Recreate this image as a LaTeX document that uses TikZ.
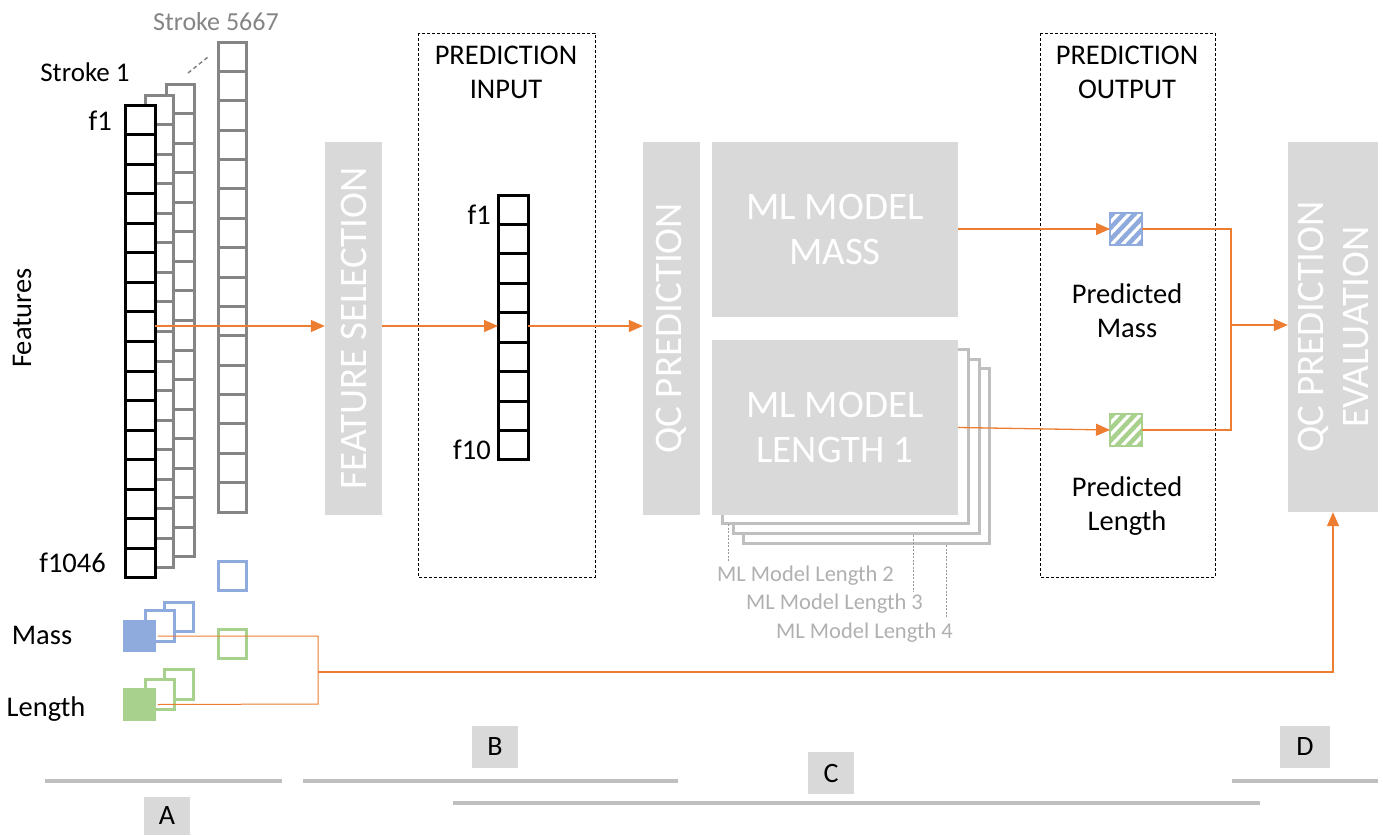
\documentclass[tikz,border=0pt]{standalone}
\usepackage{fontspec}
\setmainfont{Carlito}
\usetikzlibrary{arrows.meta}
\definecolor{boxgray}{HTML}{D9D9D9}
\definecolor{colgray}{HTML}{858585}
\definecolor{myblue}{HTML}{8FAADC}
\definecolor{mygreen}{HTML}{A9D18E}
\definecolor{myorange}{HTML}{ED7D31}
\definecolor{stackgray}{HTML}{BFBFBF}
\definecolor{lightlabel}{HTML}{B0B0B0}
\definecolor{leadgray}{HTML}{999999}
\begin{document}
\begin{tikzpicture}[x=1pt,y=-1pt,
  graybox/.style={fill=boxgray, draw=none, inner sep=0pt},
  bigtxt/.style={text=white, font=\fontsize{39}{45}\selectfont, align=center, inner sep=0pt},
  lbl/.style={font=\fontsize{28.5}{34}\selectfont, inner sep=0pt, align=center},
  smalllbl/.style={font=\fontsize{22.5}{25}\selectfont, inner sep=0pt, text=lightlabel},
  arr/.style={draw=myorange, line width=1.3pt, -{Triangle[length=14pt,width=12pt]}},
  ln/.style={draw=myorange, line width=1.3pt},
  dbox/.style={draw=black, dash pattern=on 3pt off 2pt, line width=0.9pt},
  bar/.style={draw=stackgray, line width=3.5pt},
  letterbox/.style={fill=boxgray, minimum width=46, minimum height=42, font=\fontsize{28}{30}\selectfont, inner sep=0pt},
  graycell/.style={draw=colgray, line width=3pt, fill=white},
  blackcell/.style={draw=black, line width=3pt, fill=white},
  sq/.style={minimum width=30, minimum height=30, inner sep=0pt, line width=3pt},
  leader/.style={draw=leadgray, dash pattern=on 2pt off 1.5pt, line width=0.8pt},
  stackbox/.style={draw=stackgray, line width=3pt, fill=white}
]
\useasboundingbox (0,0) rectangle (1383,835);

% ---------- Section A: strokes ----------
\node[lbl, text=colgray, font=\fontsize{26}{30}\selectfont] (s5667lbl) at (216,22) {Stroke 5667};
\node[lbl, font=\fontsize{27}{30}\selectfont] (s1lbl) at (85,72) {Stroke 1};
\draw[colgray, dash pattern=on 4pt off 3pt, line width=1.5pt] (188,73) -- (208,57);

\foreach \i in {0,...,15} \draw[graycell] (218, 42+\i*29.38) rectangle ++(28,29.38);
\foreach \i in {0,...,15} \draw[graycell] (166, 84+\i*29.56) rectangle ++(28,29.56);
\foreach \i in {0,...,15} \draw[graycell] (145, 95+\i*29.56) rectangle ++(28,29.56);
\foreach \i in {0,...,15} \draw[blackcell] (125, 105+\i*29.56) rectangle ++(30,29.56);
\coordinate (s1mid) at (155,326);

\node[lbl, anchor=east] (f1a) at (112,121) {f1};
\node[lbl, anchor=east] (f1046) at (106,563) {f1046};
\node[lbl, rotate=90] (features) at (22,318) {Features};

% targets
\draw[myblue, line width=3pt, fill=white] (218,561) rectangle (246,590);
\draw[mygreen, line width=3pt, fill=white] (218,629) rectangle (246,658);

\draw[myblue, line width=3pt, fill=white] (164,602) rectangle (193,631);
\draw[myblue, line width=3pt, fill=white] (145,610) rectangle (174,641);
\node[sq, fill=myblue, minimum width=33, minimum height=32] (mass) at (139.5,636) {};
\draw[mygreen, line width=3pt, fill=white] (164,669) rectangle (193,699);
\draw[mygreen, line width=3pt, fill=white] (145,679) rectangle (174,709);
\node[sq, fill=mygreen, minimum width=33, minimum height=33] (length) at (139.5,704.5) {};

\node[lbl] (masslbl) at (42,635) {Mass};
\node[lbl] (lenlbl) at (46,709) {Length};

\coordinate (jl) at (318,672);
\draw[ln, line width=1pt] (mass.east) -- (318,636) -- (318,704) -- (length.east);

% ---------- Section B ----------
\node[graybox, minimum width=57, minimum height=373] (fs) at (353.5,328.5) {};
\node[bigtxt, rotate=90] (fstxt) at (fs.center) {FEATURE SELECTION};

\draw[dbox] (418,33) rectangle (595,577);
\node[lbl] (pinlbl) at (506,72) {PREDICTION\\INPUT};

\foreach \i in {0,...,8} \draw[blackcell] (498, 195+\i*29.44) rectangle ++(30,29.44);
\coordinate (inL) at (498,326);
\coordinate (inR) at (528,326);
\node[lbl, anchor=east] (f1b) at (491,215) {f1};
\node[lbl, anchor=east] (f10) at (491,450) {f10};

\draw[arr] (s1mid) -- (s1mid -| fs.west);
\draw[arr] (fs.east |- inL) -- (inL);

% ---------- Section C ----------
\node[graybox, minimum width=57, minimum height=373] (qc) at (671.5,328.5) {};
\node[bigtxt, rotate=90] (qctxt) at (qc.center) {QC PREDICTION};
\draw[arr] (inR) -- (inR -| qc.west);

\node[graybox, minimum width=246, minimum height=175] (mlm) at (835,229.5) {};
\node[bigtxt] (mlmtxt) at (mlm.center) {ML MODEL\\MASS};

\draw[stackbox] (743,368.5) rectangle (989,543.5);
\draw[stackbox] (733,359) rectangle (979,533);
\draw[stackbox] (722.5,349.5) rectangle (968.5,523);
\node[graybox, minimum width=246, minimum height=175] (mll) at (835,427.5) {};
\node[bigtxt] (mlltxt) at (mll.center) {ML MODEL\\LENGTH 1};

\draw[leader] (728,524) -- (728,561);
\draw[leader] (913,535) -- (913,592);
\draw[leader] (946,545) -- (946,617);
\node[smalllbl, anchor=west] (ml2) at (717,576) {ML Model Length 2};
\node[smalllbl, anchor=west] (ml3) at (746,604) {ML Model Length 3};
\node[smalllbl, anchor=west] (ml4) at (776,633) {ML Model Length 4};

\draw[dbox] (1040,33) rectangle (1215,577);
\node[lbl] (poutlbl) at (1127,72) {PREDICTION\\OUTPUT};

\node[sq, fill=myblue, draw=myblue, line width=1pt, minimum width=31, minimum height=31] (pm) at (1126,229) {};
\node[sq, fill=mygreen, draw=mygreen, line width=1pt, minimum width=31, minimum height=31] (pl) at (1126,430) {};
\begin{scope}
\clip (pm.south west) rectangle (pm.north east);
\foreach \d in {-33,-22,...,33} \draw[white, line width=3.2pt] (1110+\d,246) -- (1142+\d,212);
\end{scope}
\begin{scope}
\clip (pl.south west) rectangle (pl.north east);
\foreach \d in {-33,-22,...,33} \draw[white, line width=3.2pt] (1110+\d,447) -- (1142+\d,413);
\end{scope}
\draw[myblue, line width=1.5pt] (pm.south west) rectangle (pm.north east);
\draw[mygreen, line width=1.5pt] (pl.south west) rectangle (pl.north east);

\node[lbl] (pmlbl) at (1127,311) {Predicted\\Mass};
\node[lbl] (pllbl) at (1127,506) {Predicted\\Length};

\draw[arr] (mlm.east |- pm.west) -- (pm.west);
\draw[arr] (mll.east) -- (pl.west);

% ---------- Section D ----------
\node[graybox, minimum width=90, minimum height=370] (qce) at (1333,327) {};
\node[bigtxt, rotate=90] (qcetxt) at (qce.center) {QC PREDICTION\\EVALUATION};

\coordinate (jr) at (1231,325);
\draw[ln] (pm.east) -- (1231,229) -- (1231,430) -- (pl.east);
\draw[arr] (jr) -- (jr -| qce.west);
\draw[arr] (jl) -- (jl -| qce.south) -- (qce.south);

% ---------- bottom bars ----------
\draw[bar] (45,781) -- (282,781);
\draw[bar] (303,781) -- (678,781);
\draw[bar] (453,803) -- (1260,803);
\draw[bar] (1232,781) -- (1378,781);
\node[letterbox, minimum height=38] (labA) at (167,816) {A};
\node[letterbox] (labB) at (495,747) {B};
\node[letterbox] (labC) at (831,773) {C};
\node[letterbox, minimum width=50] (labD) at (1305,747) {D};
\end{tikzpicture}
\end{document}
